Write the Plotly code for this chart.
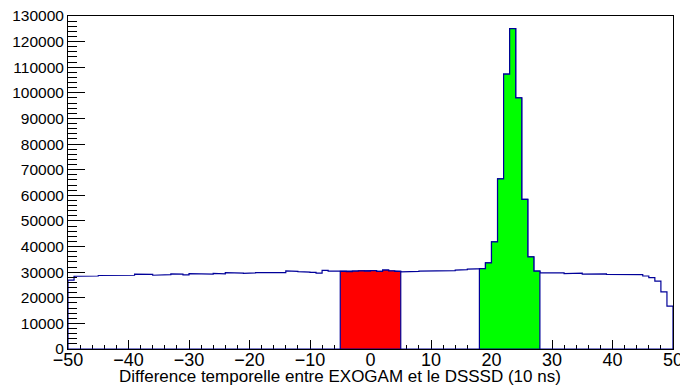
import plotly.graph_objects as go

# Bin low edges (width 1) from -50 to 49
bin_edges = list(range(-50, 50))
counts = [
    26900, 28400, 28400, 28500, 28500, 28700, 28700, 28900, 28700, 28700,  # -50..-41
    28800, 29200, 29300, 29100, 28800, 29000, 29000, 29300, 29200, 28900,  # -40..-31
    29400, 29200, 29200, 29200, 29500, 29300, 29800, 29700, 29600, 29500,  # -30..-21
    29700, 29800, 30000, 29900, 29900, 29800, 30500, 30300, 30200, 30000,  # -20..-11
    29900, 29600, 30700, 30400, 30300, 30300, 30200, 30400, 30500, 30400,  # -10..-1
    30600, 30300, 30800, 30500, 30300, 30100, 30200, 30300, 30400, 30500,  # 0..9
    30400, 30500, 30500, 30600, 30800, 31000, 31200, 31400, 31400, 33600,  # 10..19
    41800, 66400, 107300, 125100, 98000, 58400, 36000, 30400, 29700, 29600,  # 20..29
    29600, 29700, 29400, 29400, 29600, 29200, 29300, 29400, 29300, 29100,  # 30..39
    29200, 29000, 29000, 29000, 29000, 28500, 27900, 26500, 22300, 16700,  # 40..49
]
red_range = (-5, 5)
green_range = (18, 28)

x_ticks = list(range(-50, 51, 10))
x_tick_labels = [str(v).replace("-", "\u2212") for v in x_ticks]
y_ticks = list(range(0, 130001, 10000))
y_tick_labels = [str(v) for v in y_ticks]
x_title = "Difference temporelle entre EXOGAM et le DSSSD (10 ns)"

LINE = "#000099"


def step_path(lo, hi):
    xs, ys = [lo], [0]
    for e, c in zip(bin_edges, counts):
        if lo <= e < hi:
            xs += [e, e + 1]
            ys += [c, c]
    xs.append(hi)
    ys.append(0)
    xs.append(lo)
    ys.append(0)
    return xs, ys


fig = go.Figure()

# main histogram outline (closed along the bottom)
mx, my = step_path(bin_edges[0], bin_edges[-1] + 1)
fig.add_trace(go.Scatter(x=mx, y=my, mode="lines", fill="toself",
                         fillcolor="rgba(255,255,255,0)",
                         line=dict(color=LINE, width=1.2), hoverinfo="skip"))

for (lo, hi), col in [(red_range, "#ff0000"), (green_range, "#00ff00")]:
    px, py = step_path(lo, hi)
    fig.add_trace(go.Scatter(x=px, y=py, mode="lines", fill="toself",
                             fillcolor=col, line=dict(color=LINE, width=1.2),
                             hoverinfo="skip"))

font_family = "Liberation Sans, Arial, Helvetica, sans-serif"

fig.update_layout(
    width=680, height=387,
    margin=dict(l=68, r=7, t=16, b=38, autoexpand=False),
    paper_bgcolor="white", plot_bgcolor="white",
    showlegend=False,
    font=dict(family=font_family, color="black"),
    xaxis=dict(range=[-50, 50], tickvals=x_ticks, ticktext=x_tick_labels,
               ticks="inside", ticklen=9, automargin=False,
               ticklabelstandoff=-6, ticklabeloverflow="allow",
               layer="below traces",
               tickcolor="black", tickwidth=1, showgrid=False, zeroline=False,
               showline=True, linecolor="black", linewidth=1, mirror=True,
               tickfont=dict(size=18, family=font_family),
               minor=dict(dtick=2, ticks="inside", ticklen=4.5, tickcolor="black",
                          showgrid=False)),
    yaxis=dict(range=[0, 130000], tickvals=y_ticks, ticktext=y_tick_labels,
               ticks="inside", ticklen=17, automargin=False,
               tickcolor="black", tickwidth=1, showgrid=False, zeroline=False,
               showline=True, linecolor="black", linewidth=1, mirror=True,
               tickfont=dict(size=15.5, family=font_family),
               minor=dict(dtick=2000, ticks="inside", ticklen=9, tickcolor="black",
                          showgrid=False)),
    annotations=[dict(text=x_title, xref="paper", yref="paper",
                      x=0.45, y=-27 / 333, xanchor="center", yanchor="middle",
                      showarrow=False, font=dict(size=17, family=font_family))],
)

fig.write_html("out.html", config={"displayModeBar": False},
               post_script="document.body.style.margin='0';document.body.style.overflow='hidden';")
